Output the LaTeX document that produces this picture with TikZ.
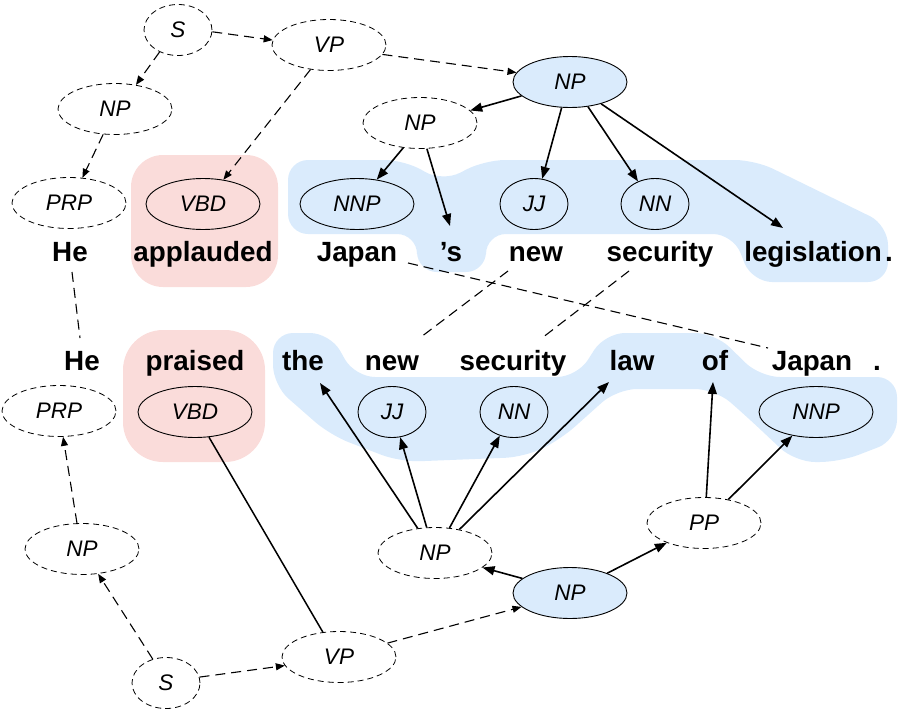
\documentclass[tikz,border=0pt]{standalone}
\usepackage{fontspec}
\setmainfont{Liberation Sans}
\usetikzlibrary{shapes.geometric,arrows.meta}
\definecolor{blob}{RGB}{218,235,252}
\definecolor{redblob}{RGB}{250,220,218}
\begin{document}
\begin{tikzpicture}[x=1pt,y=-1pt,
  lab/.style={ellipse,inner sep=0pt,minimum width=114pt,minimum height=51pt,font=\fontsize{22.5}{25}\selectfont\itshape},
  smalllab/.style={lab,minimum width=68pt},
  dsh/.style={draw,dash pattern=on 6pt off 4pt,line width=0.8pt},
  sol/.style={draw,line width=0.9pt},
  bluefill/.style={fill=blob},
  word/.style={anchor=base,inner sep=0pt,font=\fontsize{27.8}{30}\selectfont\bfseries},
  dline/.style={dash pattern=on 10pt off 6pt,line width=1.1pt},
  darr/.style={dline,-{Triangle[length=9pt,width=7pt]}},
  sarr/.style={line width=1.6pt,-{Triangle[length=12pt,width=9pt]}},
  sline/.style={line width=1.5pt}
]
\useasboundingbox (0,0) rectangle (904,712);
% background blobs
\fill[redblob,rounded corners=32pt] (131,155) rectangle (278,287);
\fill[redblob,rounded corners=40pt] (123,330) rectangle (265,462);
\fill[blob,rounded corners=20pt] (288,160) -- (405,160) -- (442,182) -- (485,160) -- (755,160) -- (888,225) -- (888,282) -- (752,282) -- (733,234) -- (486,234) -- (486,272) -- (417,272) -- (417,234) -- (288,234) -- cycle;
\fill[blob,rounded corners=20pt] (273,333) -- (330,333) -- (355,377) -- (577,377) -- (605,333) -- (715,333) -- (760,377) -- (897,377) -- (897,440) -- (840,462) -- (795,462) -- (745,415) -- (715,389) -- (617,389) -- (560,440) -- (525,457) -- (400,462) -- (330,435) -- (273,385) -- cycle;
% top tree nodes
\node[lab,smalllab,dsh] (sT) at (178,30) {S};
\node[lab,dsh] (vpT) at (329,45) {VP};
\node[lab,dsh] (npTl) at (115,109) {NP};
\node[lab,dsh] (prpT) at (69,203) {PRP};
\node[lab,sol] (vbdT) at (203,204) {VBD};
\node[lab,sol] (nnpT) at (357,204) {NNP};
\node[lab,dsh] (npTm) at (420,123) {NP};
\node[lab,sol,bluefill] (npTb) at (570,82) {NP};
\node[lab,smalllab,sol] (jjT) at (534,204) {JJ};
\node[lab,smalllab,sol] (nnT) at (655,204) {NN};
% top words
\node[word] (wheT) at (70,261) {He};
\node[word] (wappl) at (203,261) {applauded};
\node[word] (wjapT) at (357,261) {Japan};
\node[word] (waps) at (451,261) {’s};
\node[word] (wnewT) at (536,261) {new};
\node[word] (wsecT) at (660,261) {security};
\node[word] (wleg) at (813,261) {legislation};
\node[word] (wdotT) at (889,261) {.};
% bottom words
\node[word] (wheB) at (82,370) {He};
\node[word] (wpra) at (195,370) {praised};
\node[word] (wthe) at (303,370) {the};
\node[word] (wnewB) at (392,370) {new};
\node[word] (wsecB) at (513,370) {security};
\node[word] (wlaw) at (632,370) {law};
\node[word] (wof) at (715,370) {of};
\node[word] (wjapB) at (812,370) {Japan};
\node[word] (wdotB) at (877,370) {.};
% bottom tree nodes
\node[lab,dsh] (prpB) at (59,411) {PRP};
\node[lab,sol] (vbdB) at (195,412) {VBD};
\node[lab,smalllab,sol] (jjB) at (392,412) {JJ};
\node[lab,smalllab,sol] (nnB) at (514,412) {NN};
\node[lab,sol] (nnpB) at (816,412) {NNP};
\node[lab,dsh] (npBl) at (82,549) {NP};
\node[lab,dsh] (npBm) at (435,553) {NP};
\node[lab,sol,bluefill] (npBb) at (570,593) {NP};
\node[lab,dsh] (pp) at (704,523) {PP};
\node[lab,dsh] (vpB) at (339,657) {VP};
\node[lab,smalllab,dsh] (sB) at (166,683) {S};
% top edges
\draw[darr] (sT.230) -- (npTl.49);
\draw[darr] (sT.-3) -- (vpT.175);
\draw[darr] (npTl.245) -- (prpT.62);
\draw[darr] (vpT.233) -- (vbdT.50);
\draw[darr] (vpT.-10) -- (npTb.170);
\draw[sarr] (npTb.196) -- (npTm.14);
\draw[sarr] (npTb.252) -- (jjT.72);
\draw[sarr] (npTb.306) -- (nnT.127);
\draw[sarr] (npTb.325) -- ([xshift=-30pt,yshift=33pt]wleg.base);
\draw[sarr] (npTm.236) -- (nnpT.51);
\draw[sarr] (npTm.285) -- ([xshift=-1pt,yshift=35pt]waps.base);
% alignment lines
\draw[dline] ([xshift=2pt,yshift=-11pt]wheT.base) -- ([xshift=-2pt,yshift=32pt]wheB.base);
\draw[dline] ([xshift=51pt,yshift=-2pt]wjapT.base) -- ([xshift=-44pt,yshift=22pt]wjapB.base);
\draw[dline] ([xshift=-28pt,yshift=-10pt]wnewT.base) -- ([xshift=29pt,yshift=33pt]wnewB.base);
\draw[dline] ([xshift=-31pt,yshift=-10pt]wsecT.base) -- ([xshift=29pt,yshift=32pt]wsecB.base);
% bottom edges
\draw[darr] (sB.119) -- (npBl.303);
\draw[darr] (sB.10) -- (vpB.189);
\draw[darr] (npBl.101) -- (prpB.279);
\draw[sline] (vpB.123) -- (vbdB.299);
\draw[darr] (vpB.16) -- (npBb.196);
\draw[sarr] (npBb.163) -- (npBm.343);
\draw[sarr] (npBb.28) -- (pp.208);
\draw[sarr] (pp.85) -- ([xshift=-2pt,yshift=-12pt]wof.base);
\draw[sarr] (pp.44) -- (nnpB.225);
\draw[sarr] (npBm.125) -- ([xshift=17pt,yshift=-13pt]wthe.base);
\draw[sarr] (npBm.108) -- (jjB.288);
\draw[sarr] (npBm.60) -- (nnB.239);
\draw[sarr] (npBm.44) -- ([xshift=-23pt,yshift=-12pt]wlaw.base);
\end{tikzpicture}
\end{document}
